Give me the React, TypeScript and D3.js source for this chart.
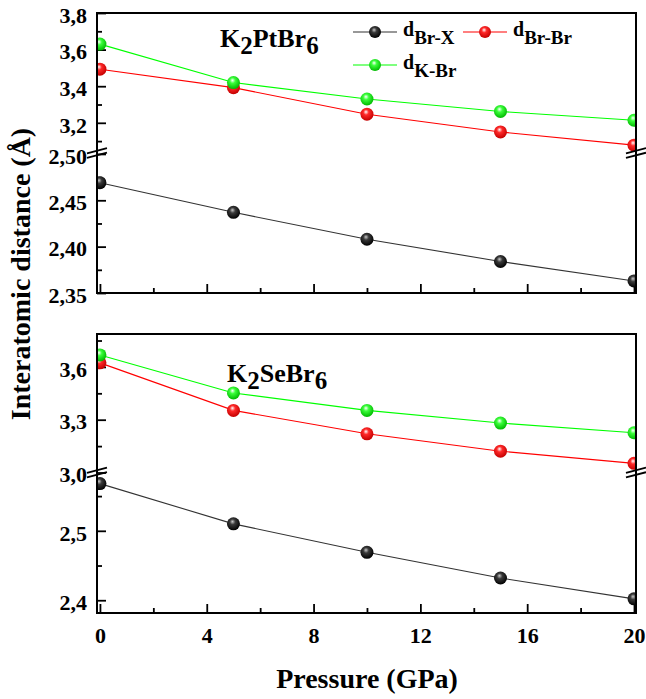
import React, { useEffect, useRef } from 'react';
import * as d3 from 'd3';

// pressure (GPa)
const pressure = [0, 5, 10, 15, 20];

// K2PtBr6 distances (Å)
const ptBrX = [2.469, 2.437, 2.408, 2.384, 2.363];
const ptBrBr = [3.493, 3.392, 3.247, 3.15, 3.078];
const ptKBr = [3.63, 3.42, 3.33, 3.262, 3.214];

// K2SeBr6 distances (Å)
const seBrX = [2.568, 2.51, 2.469, 2.432, 2.402];
const seBrBr = [3.623, 3.353, 3.22, 3.121, 3.052];
const seKBr = [3.668, 3.452, 3.353, 3.281, 3.226];

const seriesNames = ['Br-X', 'Br-Br', 'K-Br'];
const seriesColors = ['#000000', '#ff0000', '#00ff00'];

const xTicks = [0, 4, 8, 12, 16, 20];
const xMinor = [2, 6, 10, 14, 18];

const ptUpperTicks = [3.2, 3.4, 3.6, 3.8];
const ptUpperMinor = [3.1, 3.3, 3.5, 3.7];
const ptLowerTicks = [2.35, 2.4, 2.45, 2.5];
const ptLowerMinor = [2.375, 2.425, 2.475];

const seUpperTicks = [3.0, 3.3, 3.6];
const seUpperMinor = [3.15, 3.45, 3.75];
const seLowerTicks = [2.4, 2.5];
const seLowerMinor = [2.45, 2.55];

const FONT = "'Liberation Serif', 'Times New Roman', serif";

const locale = d3.formatLocale({ decimal: ',', thousands: ' ', grouping: [3], currency: ['', ''] });
const fmt1 = locale.format('.1f');
const fmt2 = locale.format('.2f');

function App() {
  const ref = useRef<SVGSVGElement>(null);

  useEffect(() => {
    const svg = d3.select(ref.current);
    svg.selectAll('*').remove();
    draw(svg);
  }, []);

  function draw(svg: any) {
    const left = 97;
    const right = 636;
    const x = d3.scaleLinear().domain([-0.11, 20.075]).range([left, right]);

    const defs = svg.append('defs');
    const shades = [
      ['#c8c8c8', '#3a3a3a', '#000000'],
      ['#ffffff', '#ff2a2a', '#c40000'],
      ['#ffffff', '#3cff3c', '#00b800'],
    ];
    shades.forEach((s, i) => {
      const g = defs.append('radialGradient')
        .attr('id', 'ball' + i)
        .attr('cx', '0.45').attr('cy', '0.4').attr('r', '0.6')
        .attr('fx', '0.42').attr('fy', '0.32');
      g.append('stop').attr('offset', '0%').attr('stop-color', s[0]);
      g.append('stop').attr('offset', '35%').attr('stop-color', s[1]);
      g.append('stop').attr('offset', '100%').attr('stop-color', s[2]);
    });

    const panels = [
      {
        id: 'pt', top: 13, bottom: 293, brk: 153,
        upperDomain: [3.035, 3.8], lowerDomain: [2.35, 2.501],
        upperTicks: ptUpperTicks, upperMinor: ptUpperMinor, upperFmt: fmt1,
        lowerTicks: ptLowerTicks, lowerMinor: ptLowerMinor, lowerFmt: fmt2,
        data: [ptBrX, ptBrBr, ptKBr],
        title: ['K', '2', 'PtBr', '6'], titleX: 220, titleY: 47,
        xLabels: false,
      },
      {
        id: 'se', top: 334, bottom: 613, brk: 472.5,
        upperDomain: [3.0, 3.787], lowerDomain: [2.3816, 2.584],
        upperTicks: seUpperTicks, upperMinor: seUpperMinor, upperFmt: fmt1,
        lowerTicks: seLowerTicks, lowerMinor: seLowerMinor, lowerFmt: fmt1,
        data: [seBrX, seBrBr, seKBr],
        title: ['K', '2', 'SeBr', '6'], titleX: 227, titleY: 382,
        xLabels: true,
      },
    ];

    panels.forEach((p) => {
      const yUp = d3.scaleLinear().domain(p.upperDomain).range([p.brk, p.top]);
      const yLo = d3.scaleLinear().domain(p.lowerDomain).range([p.bottom, p.brk]);

      defs.append('clipPath').attr('id', 'clip-' + p.id)
        .append('rect')
        .attr('x', left).attr('y', p.top)
        .attr('width', right - left).attr('height', p.bottom - p.top);

      // y axes (ticks inward)
      const yAxes: [any, number[], any, number, boolean][] = [
        [yUp, p.upperTicks, p.upperFmt, 9, true],
        [yUp, p.upperMinor, null, 5, false],
        [yLo, p.lowerTicks, p.lowerFmt, 9, true],
        [yLo, p.lowerMinor, null, 5, false],
      ];
      yAxes.forEach(([sc, ticks, f, len, labels]) => {
        const g = svg.append('g')
          .attr('transform', `translate(${left},0)`)
          .call(d3.axisLeft(sc).tickValues(ticks).tickSizeInner(-len).tickSizeOuter(0).tickPadding(10)
            .tickFormat(labels ? (d: any) => f(d) : () => ''));
        g.select('.domain').remove();
        g.attr('font-family', FONT).attr('font-size', 22).attr('font-weight', 'bold');
        g.selectAll('line').attr('stroke', '#000').attr('stroke-width', 1.8);
        g.selectAll('text').attr('fill', '#000').attr('dy', '0.42em');
      });

      // x axes (ticks inward)
      const xa = svg.append('g')
        .attr('transform', `translate(0,${p.bottom})`)
        .call(d3.axisBottom(x).tickValues(xTicks).tickSizeInner(-9).tickSizeOuter(0).tickPadding(14)
          .tickFormat(p.xLabels ? (d: any) => String(d) : () => ''));
      xa.select('.domain').remove();
      xa.attr('font-family', FONT).attr('font-size', 22).attr('font-weight', 'bold');
      xa.selectAll('line').attr('stroke', '#000').attr('stroke-width', 1.8);
      xa.selectAll('text').attr('fill', '#000');

      const xm = svg.append('g')
        .attr('transform', `translate(0,${p.bottom})`)
        .call(d3.axisBottom(x).tickValues(xMinor).tickSizeInner(-5).tickSizeOuter(0).tickFormat(() => ''));
      xm.select('.domain').remove();
      xm.selectAll('line').attr('stroke', '#000').attr('stroke-width', 1.8);

      // series
      const plot = svg.append('g').attr('clip-path', `url(#clip-${p.id})`);
      p.data.forEach((vals: number[], i: number) => {
        const sc = i === 0 ? yLo : yUp;
        const line = d3.line<number>().x((d, j) => x(pressure[j])).y((d) => sc(d));
        plot.append('path')
          .attr('d', line(vals))
          .attr('fill', 'none')
          .attr('stroke', i === 0 ? '#333' : seriesColors[i])
          .attr('stroke-width', 1.1);
      });
      p.data.forEach((vals: number[], i: number) => {
        const sc = i === 0 ? yLo : yUp;
        plot.selectAll(null)
          .data(vals)
          .enter()
          .append('circle')
          .attr('cx', (d: number, j: number) => x(pressure[j]))
          .attr('cy', (d: number) => sc(d))
          .attr('r', 6.5)
          .attr('fill', `url(#ball${i})`);
      });

      // frame
      svg.append('rect')
        .attr('x', left).attr('y', p.top)
        .attr('width', right - left).attr('height', p.bottom - p.top)
        .attr('fill', 'none').attr('stroke', '#000').attr('stroke-width', 2);

      // axis break marks
      [left, right].forEach((ax) => {
        [-2.3, 2.3].forEach((o) => {
          svg.append('line')
            .attr('x1', ax - 10).attr('y1', p.brk + 2.6 + o)
            .attr('x2', ax + 10).attr('y2', p.brk - 2.6 + o)
            .attr('stroke', '#000').attr('stroke-width', 1.8);
        });
      });

      // compound title
      const t = svg.append('text')
        .attr('x', p.titleX).attr('y', p.titleY)
        .attr('font-family', FONT).attr('font-weight', 'bold').attr('font-size', 26);
      t.append('tspan').text(p.title[0]);
      t.append('tspan').attr('dy', 7).attr('font-size', 25).text(p.title[1]);
      t.append('tspan').attr('dy', -7).text(p.title[2]);
      t.append('tspan').attr('dy', 7).attr('font-size', 25).text(p.title[3]);
    });

    // legend
    const legendPos = [[375, 32], [485, 32], [375, 65]];
    seriesNames.forEach((name, i) => {
      const [cx, cy] = legendPos[i];
      const g = svg.append('g');
      g.append('line')
        .attr('x1', cx - 22).attr('x2', cx + 22).attr('y1', cy).attr('y2', cy)
        .attr('stroke', i === 0 ? '#333' : seriesColors[i]).attr('stroke-width', 1.1);
      g.append('circle').attr('cx', cx).attr('cy', cy).attr('r', 6).attr('fill', `url(#ball${i})`);
      const t = g.append('text')
        .attr('x', cx + 28).attr('y', cy + 4)
        .attr('font-family', FONT).attr('font-weight', 'bold').attr('font-size', 20);
      t.append('tspan').text('d');
      t.append('tspan').attr('dy', 7.5).attr('font-size', 19).text(name);
    });

    // axis titles
    svg.append('text')
      .attr('x', 367).attr('y', 688)
      .attr('text-anchor', 'middle')
      .attr('font-family', FONT).attr('font-weight', 'bold').attr('font-size', 28)
      .text('Pressure (GPa)');

    svg.append('text')
      .attr('transform', 'translate(30,274) rotate(-90)')
      .attr('text-anchor', 'middle')
      .attr('font-family', FONT).attr('font-weight', 'bold').attr('font-size', 28)
      .text('Interatomic distance (Å)');
  }

  return (
    <svg ref={ref} width={646} height={699} style={{ position: 'absolute', left: 0, top: 0, background: '#fff' }}></svg>
  );
}

export default App;
